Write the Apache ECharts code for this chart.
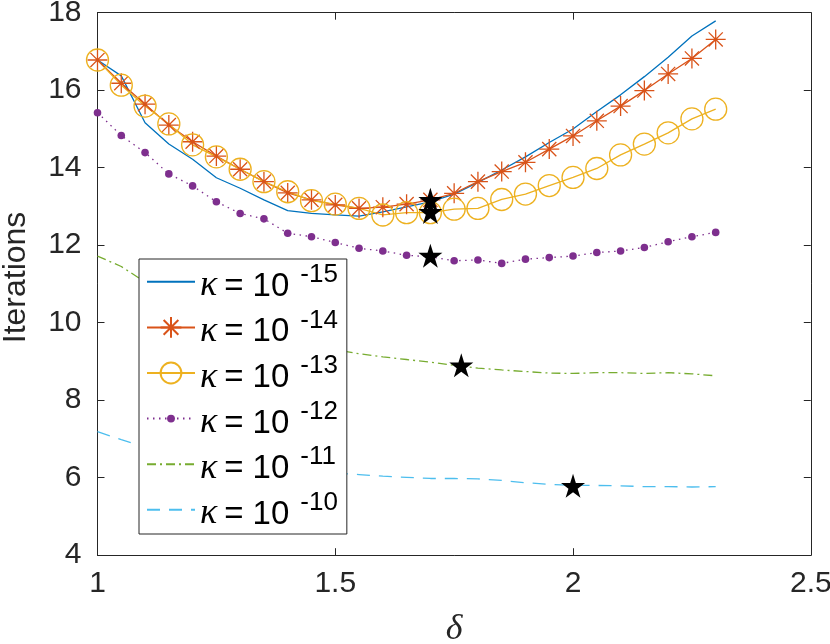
<!DOCTYPE html>
<html>
<head>
<meta charset="utf-8">
<script src="https://cdn.jsdelivr.net/npm/echarts@6/dist/echarts.min.js"></script>
<style>
  html, body { margin: 0; padding: 0; background: #fff; }
  #chart { width: 830px; height: 644px; }
</style>
</head>
<body>
<div id="chart"></div>
<script>
// δ 取值
const delta = [1, 1.05, 1.1, 1.15, 1.2, 1.25, 1.3, 1.35, 1.4, 1.45, 1.5, 1.55, 1.6, 1.65,
  1.7, 1.75, 1.8, 1.85, 1.9, 1.95, 2, 2.05, 2.1, 2.15, 2.2, 2.25, 2.3]

// 各 κ 的迭代次数
const k15 = [16.78, 16.37, 15.16, 14.61, 14.22, 13.74, 13.47, 13.17, 12.89, 12.82, 12.78, 12.75, 12.86, 12.99,
  13.12, 13.32, 13.62, 13.94, 14.28, 14.65, 15.0, 15.45, 15.88, 16.35, 16.85, 17.40, 17.79]
const k14 = [16.78, 16.18, 15.64, 15.10, 14.67, 14.30, 13.96, 13.64, 13.35, 13.17, 13.04, 12.95, 12.98, 13.06,
  13.17, 13.34, 13.64, 13.90, 14.14, 14.48, 14.82, 15.21, 15.59, 15.99, 16.42, 16.82, 17.31]
const k13 = [16.78, 16.13, 15.59, 15.13, 14.59, 14.28, 13.96, 13.64, 13.38, 13.15, 13.06, 12.95, 12.78, 12.84,
  12.84, 12.93, 12.95, 13.18, 13.32, 13.54, 13.75, 13.98, 14.33, 14.61, 14.90, 15.26, 15.51]
const k12 = [15.42, 14.83, 14.39, 13.84, 13.53, 13.12, 12.82, 12.68, 12.31, 12.22, 12.07, 11.92, 11.85, 11.74,
  11.70, 11.60, 11.62, 11.53, 11.64, 11.68, 11.72, 11.81, 11.85, 11.94, 12.09, 12.22, 12.33]
const k11 = [11.72, 11.45, 11.05, 10.70, 10.40, 10.15, 9.92, 9.73, 9.55, 9.42, 9.30, 9.20, 9.12, 9.05,
  8.98, 8.90, 8.83, 8.78, 8.74, 8.70, 8.69, 8.71, 8.71, 8.69, 8.71, 8.68, 8.63]
const k10 = [7.19, 6.98, 6.80, 6.65, 6.52, 6.42, 6.33, 6.26, 6.20, 6.15, 6.12, 6.08, 6.04, 6.01,
  5.98, 5.98, 5.97, 5.93, 5.87, 5.83, 5.80, 5.80, 5.79, 5.77, 5.77, 5.76, 5.77]

// 最优点(五角星)
const starX = [1.7, 1.7, 1.7, 1.765, 2.0]
const starY = [13.17, 12.86, 11.73, 8.90, 5.79]

// 图例指数
const kappaExp = ['-15', '-14', '-13', '-12', '-11', '-10']

const xTicks = { min: 1, max: 2.5, interval: 0.5 }
const yTicks = { min: 4, max: 18, interval: 2 }

const axisColor = '#262626'
const sans = 'Liberation Sans'

// 符号
const asterisk = 'path://M0,10L20,10M10,0L10,20M2.93,2.93L17.07,17.07M2.93,17.07L17.07,2.93'
const smallDot = 'path://M0,0L0,0M20,20L20,20M6.2,10A3.8,3.8,0,1,0,13.8,10A3.8,3.8,0,1,0,6.2,10Z'
const star = 'path://M50,0L61.23,34.55L97.55,34.55L68.17,55.9L79.39,90.45L50,69.1L20.61,90.45L31.83,55.9L2.45,34.55L38.77,34.55Z'

const zip = ys => delta.map((d, i) => [d, ys[i]])
const names = kappaExp.map(e => 'k' + e)

// 无标记的线:符号设为不可见,避免图例里出现圆点
const noMarker = { symbol: 'circle', symbolSize: 0, itemStyle: { color: 'rgba(0,0,0,0)', borderWidth: 0 } }

const lineSeries = (name, ys, color, opts) => Object.assign({
  name,
  type: 'line',
  data: zip(ys),
  showSymbol: true,
  showAllSymbol: true,
  emphasis: { disabled: true },
  lineStyle: { color, width: 1.3, type: 'solid' }
}, opts)

const chart = echarts.init(document.getElementById('chart'))
chart.setOption({
  animation: false,
  grid: { left: 97.5, right: 19.2, top: 12.7, bottom: 88.8, containLabel: false, outerBoundsMode: 'none' },
  xAxis: [
    {
      type: 'value', ...xTicks,
      name: 'δ', nameLocation: 'middle', nameGap: 56,
      nameTextStyle: { fontFamily: 'Liberation Serif', fontStyle: 'italic', fontSize: 36, color: axisColor },
      axisLine: { show: true, lineStyle: { color: axisColor, width: 1 } },
      axisTick: { show: true, inside: true, length: 7, lineStyle: { color: axisColor } },
      axisLabel: { fontFamily: sans, fontSize: 30, color: axisColor, margin: 14 },
      splitLine: { show: false }
    },
    {
      type: 'value', ...xTicks, position: 'top',
      axisLine: { show: true, onZero: false, lineStyle: { color: axisColor, width: 1 } },
      axisTick: { show: true, inside: true, length: 7, lineStyle: { color: axisColor } },
      axisLabel: { show: false },
      splitLine: { show: false }
    }
  ],
  yAxis: [
    {
      type: 'value', ...yTicks,
      name: 'Iterations', nameLocation: 'middle', nameGap: 65,
      nameTextStyle: { fontFamily: sans, fontSize: 32, color: axisColor, padding: [0, 0, 0, 13] },
      axisLine: { show: true, lineStyle: { color: axisColor, width: 1 } },
      axisTick: { show: true, inside: true, length: 7, lineStyle: { color: axisColor } },
      axisLabel: { fontFamily: sans, fontSize: 30, color: axisColor, margin: 16 },
      splitLine: { show: false }
    },
    {
      type: 'value', ...yTicks, position: 'right',
      axisLine: { show: true, onZero: false, lineStyle: { color: axisColor, width: 1 } },
      axisTick: { show: true, inside: true, length: 7, lineStyle: { color: axisColor } },
      axisLabel: { show: false },
      splitLine: { show: false }
    }
  ],
  legend: {
    data: names,
    orient: 'vertical',
    left: 139,
    top: 259,
    itemWidth: 48,
    itemHeight: 26,
    itemGap: 1.2,
    padding: [0.6, 9, 2, 7],
    backgroundColor: '#fff',
    borderColor: axisColor,
    borderWidth: 1,
    borderRadius: 0,
    selectedMode: false,
    formatter: name => '{k|κ}{eq|=}{ten|10}{sup|' + name.slice(1) + '}',
    textStyle: {
      color: '#000',
      rich: {
        k: { fontFamily: 'Liberation Serif', fontStyle: 'italic', fontSize: 36, lineHeight: 40, padding: [8.4, 0, 0, 0], color: '#000' },
        eq: { fontFamily: sans, fontSize: 33, lineHeight: 40, padding: [10, 0, 0, 7], color: '#000' },
        ten: { fontFamily: sans, fontSize: 33, lineHeight: 40, padding: [10, 0, 0, 9], color: '#000' },
        sup: { fontFamily: sans, fontSize: 26, lineHeight: 40, padding: [0, 0, 14, 11], color: '#000' }
      }
    }
  },
  series: [
    lineSeries(names[0], k15, '#0072BD', noMarker),
    lineSeries(names[1], k14, '#D95319', {
      symbol: asterisk, symbolSize: 20,
      itemStyle: { color: 'rgba(0,0,0,0)', borderColor: '#D95319', borderWidth: 1.3 }
    }),
    lineSeries(names[2], k13, '#EDB120', {
      symbol: 'circle', symbolSize: 22,
      itemStyle: { color: 'rgba(0,0,0,0)', borderColor: '#EDB120', borderWidth: 1.3 }
    }),
    lineSeries(names[3], k12, '#7E2F8E', {
      symbol: smallDot, symbolSize: 20,
      itemStyle: { color: '#7E2F8E', borderWidth: 0 },
      lineStyle: { color: '#7E2F8E', width: 1.3, type: [1.5, 4.5] }
    }),
    lineSeries(names[4], k11, '#77AC30', Object.assign({}, noMarker, {
      lineStyle: { color: '#77AC30', width: 1.3, type: [9, 4, 2, 4] }
    })),
    lineSeries(names[5], k10, '#4DBEEE', Object.assign({}, noMarker, {
      lineStyle: { color: '#4DBEEE', width: 1.3, type: [13, 9] }
    })),
    {
      type: 'scatter',
      data: starX.map((x, i) => [x, starY[i]]),
      symbol: star,
      symbolSize: 24,
      itemStyle: { color: '#000', opacity: 1 },
      emphasis: { disabled: true },
      z: 5
    }
  ]
})
</script>
</body>
</html>
